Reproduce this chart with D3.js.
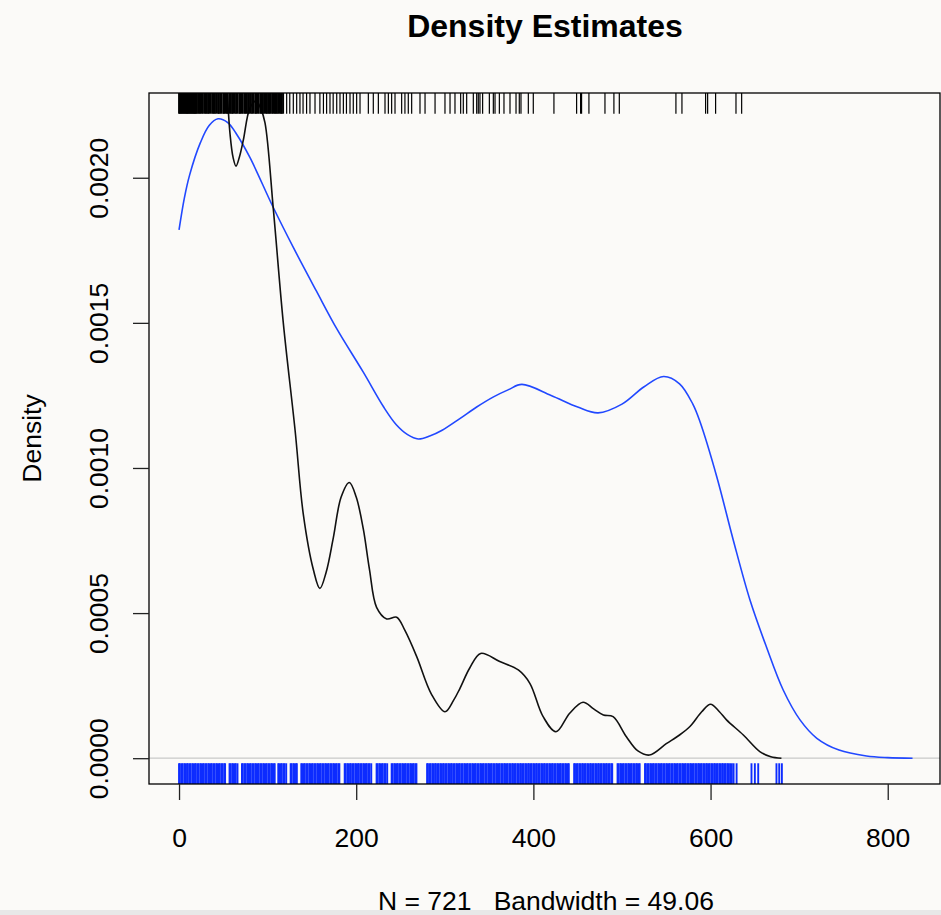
<!DOCTYPE html>
<html>
<head>
<meta charset="utf-8">
<script src="https://cdn.jsdelivr.net/npm/d3@7"></script>
<style>
  body { margin: 0; background: #fbfaf8; }
  svg { display: block; }
  text { font-family: "Liberation Sans", Arial, Helvetica, sans-serif; fill: #000; }
</style>
</head>
<body>
<svg id="chart"></svg>
<script>
// plot limits (R adds 4% around the data range)
var xLim = [-33.9, 859];
var yLim = [-0.0000889, 0.002292];

var xTicks = [0, 200, 400, 600, 800];
var yTicks = [0, 0.0005, 0.0010, 0.0015, 0.0020];

// wide bandwidth density (blue)
var blueX = [0, 6, 12, 24, 34, 44, 55, 65, 80, 106, 129, 155, 178, 208, 231, 245, 258, 270, 283, 297, 317,
  336, 355, 372, 387, 420, 450, 473, 500, 525, 547, 565, 580, 588, 607, 625.6, 644.5, 663, 682, 701, 720, 745,
  776, 800, 828];
var blueY = [0.00182, 0.00193, 0.00201, 0.00212, 0.00218, 0.002203, 0.00219, 0.00215, 0.00207, 0.00190, 0.00176,
  0.00161, 0.00148, 0.00133, 0.00121, 0.00115, 0.001115, 0.00110, 0.00111, 0.00113, 0.00117,
  0.00121, 0.001245, 0.00127, 0.001288, 0.00125, 0.00121, 0.00119, 0.00122, 0.00128, 0.001315, 0.00129, 0.00122,
  0.00116, 0.00097, 0.000752, 0.000545, 0.000384, 0.000235, 0.000132, 0.0000686, 0.000028,
  0.0000076, 0.000002, 0];

// narrow bandwidth density (black)
var blackX = [0, 10, 20, 30, 40, 48, 54.5, 57.6, 61, 64.3, 68, 72.6, 80, 87, 92, 97, 106.5, 117.7, 131, 140.3,
  151.6, 159, 166, 174.2, 183, 192.2, 200, 208, 215, 223, 234.4, 245.7, 255, 268.3, 285, 300.2, 310, 317,
  328, 340.5, 362, 383, 396, 411, 425.5, 441, 456, 468, 479, 490, 505, 518, 531, 550, 565, 577, 590, 600,
  610, 618, 637, 656, 668, 680];
var blackY = [0.0036, 0.0040, 0.0041, 0.0038, 0.0032, 0.0027, 0.00229, 0.00215, 0.00207, 0.00204, 0.00207,
  0.00213, 0.00224, 0.002265, 0.00224, 0.00219, 0.00189, 0.00150, 0.00113, 0.00084,
  0.00065, 0.000585, 0.00064, 0.00076, 0.00090, 0.00095, 0.00090, 0.00079, 0.00065, 0.00052, 0.00048,
  0.000486, 0.00044, 0.00035, 0.00022, 0.00016, 0.00020, 0.00024,
  0.00031, 0.000361, 0.000333, 0.000304, 0.000258, 0.000143, 0.000091, 0.000155, 0.000193, 0.00017,
  0.000149, 0.000143, 0.000074, 0.000025, 0.000011, 0.00005, 0.00008, 0.00011, 0.00016, 0.000186,
  0.00016, 0.000132, 0.00008, 0.000022, 0.000005, 0];

// rug of the black sample (top)
var blackRug = [0, 1, 2, 3, 4, 5, 6, 7, 8, 9, 10, 11, 12, 13, 14, 15, 16, 17, 18, 19, 20,
  21.5, 23, 24, 25.5, 27, 29, 30, 31.5, 33, 34, 36, 38, 39, 40.5, 42, 44, 45, 46.5, 48, 50, 51, 52.5, 54,
  55, 57, 58.5, 60, 61, 63, 64.5, 66, 68, 69, 70.5, 72, 74, 75, 76.5, 78, 79, 81, 82.5, 84, 86, 87, 88.5,
  90, 92, 93, 94.5, 96, 98, 99, 100.5, 102, 103, 105, 106.5, 108, 109, 110.5, 112, 113.5, 115, 116, 117.5,
  121.5, 125, 129, 132.8, 136.5, 140, 144, 147.8, 153.5, 159, 163, 166.6, 170.4, 174, 178, 181.7, 185.5,
  189, 193, 196.7, 200.5, 204.3, 213.7, 219.3, 225, 232.5, 236.3, 240, 243.8, 251.3, 255, 258.8, 262.6,
  272, 277.7, 289, 300.2, 305.9, 311.5, 317.9, 320.9, 324.7, 332.2, 336, 337.8, 339.7, 342.7, 350.3,
  354.8, 356.7, 361.6, 366.8, 373.6, 380.4, 384.1, 386, 394.3, 399.9, 423.2, 448.8, 453.3, 454.4, 462.7,
  480.8, 490.9, 497, 560.9, 567.7, 594.4, 596.7, 605.7, 628.7, 635.1];

// rug of the blue sample (bottom)
var blueRug = [0, 1, 3, 4, 6, 7, 9, 10, 12, 13, 15, 16, 18, 19, 21, 22, 24, 25, 27, 28, 30, 31, 33, 34, 36, 37,
  39, 40, 42, 43, 45, 46, 48, 49, 51, 52, 57, 58, 60, 61, 63, 64, 66,
  71, 72, 74, 75, 77, 78, 80, 81, 83, 84, 86, 87, 89, 90, 92, 93, 95, 96, 98, 99, 101, 102, 104, 105, 107, 108,
  112, 113, 115, 116, 118, 119, 121, 126, 127, 129, 130, 132, 133,
  138, 139, 141, 142, 144, 145, 147, 148, 150, 151, 153, 154, 156, 157, 159, 160, 162, 163, 165, 166, 168,
  169, 171, 172, 174, 175, 177, 178, 180, 181,
  187, 188, 190, 191, 193, 194, 196, 197, 199, 200, 202, 203, 205, 206, 208, 209, 211, 212, 214, 215, 217,
  223, 224, 226, 227, 229, 230, 232, 233, 235,
  240, 241, 243, 244, 246, 247, 249, 250, 252, 253, 255, 256, 258, 259, 261, 262, 264, 265, 267, 268,
  280, 281, 283, 284, 286, 287, 289, 290, 292, 293, 295, 296, 298, 299, 301, 302, 304, 305, 307, 308, 310,
  311, 313, 314, 316, 317, 319, 320, 322, 323, 325, 326, 328, 329, 331, 332, 334, 335, 337, 338, 340, 341,
  343, 344, 346, 347, 349, 350, 352, 353, 355, 356, 358, 359, 361, 362, 364, 365, 367, 368, 370, 371, 373,
  374, 376, 377, 379, 380, 382, 383, 385, 386, 388, 389, 391, 392, 394, 395, 397, 398, 400, 401, 403, 404,
  406, 407, 409, 410, 412, 413, 415, 416, 418, 419, 421, 422, 424, 425, 427, 428, 430, 431, 433, 434, 436,
  437, 439, 440,
  446, 447, 449, 450, 452, 453, 455, 456, 458, 459, 461, 462, 464, 465, 467, 468, 470, 471, 473, 474, 476,
  477, 479, 480, 482, 483, 485, 486, 488, 489,
  495, 496, 498, 499, 501, 502, 504, 505, 507, 508, 510, 511, 513, 514, 516, 517, 519, 520,
  526, 527, 529, 530, 532, 533, 535, 536, 538, 539, 541, 542, 544, 545, 547, 548, 550, 551, 553, 554, 556,
  557, 559, 560, 562, 563, 565, 566, 568, 569, 571, 572, 574, 575, 577, 578, 580, 581, 583, 584, 586, 587,
  589, 590, 592, 593, 595, 596, 598, 599, 601, 602, 604, 605, 607, 608, 610, 611, 613, 614, 616, 617, 619,
  620, 622, 624, 626, 629.4, 646.2, 650, 653.8, 674.4, 677.5, 680.5];

var width = 941, height = 915;
var box = {left: 149, right: 940, top: 93, bottom: 784};

var svg = d3.select("#chart")
    .attr("width", width)
    .attr("height", height);

svg.append("rect")
    .attr("width", width)
    .attr("height", height)
    .attr("fill", "#fbfaf8");

var x = d3.scaleLinear().domain(xLim).range([box.left, box.right]);
var y = d3.scaleLinear().domain(yLim).range([box.bottom, box.top]);

svg.append("clipPath")
    .attr("id", "plotClip")
    .append("rect")
    .attr("x", box.left)
    .attr("y", box.top)
    .attr("width", box.right - box.left)
    .attr("height", box.bottom - box.top);

// zero line
svg.append("line")
    .attr("x1", box.left).attr("x2", box.right)
    .attr("y1", y(0)).attr("y2", y(0))
    .attr("stroke", "#c9c9c9")
    .attr("stroke-width", 1.2);

var line = d3.line()
    .x(function (d) { return x(d[0]); })
    .y(function (d) { return y(d[1]); })
    .curve(d3.curveCatmullRom.alpha(0.5));

var plot = svg.append("g").attr("clip-path", "url(#plotClip)");

plot.append("path")
    .datum(blueX.map(function (v, i) { return [v, blueY[i]]; }))
    .attr("d", line)
    .attr("fill", "none")
    .attr("stroke", "#2148ff")
    .attr("stroke-width", 1.6);

plot.append("path")
    .datum(blackX.map(function (v, i) { return [v, blackY[i]]; }))
    .attr("d", line)
    .attr("fill", "none")
    .attr("stroke", "#111")
    .attr("stroke-width", 1.6);

// rugs, 3% of plot height
var rugLen = 0.03 * (box.bottom - box.top);

svg.append("g")
    .selectAll("line")
    .data(blackRug)
    .enter().append("line")
    .attr("x1", function (d) { return x(d); })
    .attr("x2", function (d) { return x(d); })
    .attr("y1", box.top)
    .attr("y2", box.top + rugLen)
    .attr("stroke", "#000")
    .attr("stroke-width", function (d) { return d < 118 ? 1.9 : 1.2; });

svg.append("g")
    .selectAll("line")
    .data(blueRug)
    .enter().append("line")
    .attr("x1", function (d) { return x(d); })
    .attr("x2", function (d) { return x(d); })
    .attr("y1", box.bottom)
    .attr("y2", box.bottom - rugLen)
    .attr("stroke", "#0d2cff")
    .attr("stroke-width", 1.9);

// box
svg.append("rect")
    .attr("x", box.left)
    .attr("y", box.top)
    .attr("width", box.right - box.left)
    .attr("height", box.bottom - box.top)
    .attr("fill", "none")
    .attr("stroke", "#000")
    .attr("stroke-width", 1.3);

// axes
var xAxis = svg.append("g")
    .attr("transform", "translate(0," + box.bottom + ")")
    .call(d3.axisBottom(x).tickValues(xTicks).tickSize(16).tickFormat(d3.format("d")));
xAxis.select(".domain").remove();
xAxis.selectAll("line").attr("stroke", "#222").attr("stroke-width", 1.3);
xAxis.selectAll("text")
    .attr("y", 62.7)
    .attr("dy", 0)
    .style("font-size", "26.5px")
    .style("font-family", "'Liberation Sans', Arial, sans-serif")
    .attr("fill", "#000");

var yAxis = svg.append("g")
    .attr("transform", "translate(" + box.left + ",0)")
    .call(d3.axisLeft(y).tickValues(yTicks).tickSize(16).tickFormat(d3.format(".4f")));
yAxis.select(".domain").remove();
yAxis.selectAll("line").attr("stroke", "#222").attr("stroke-width", 1.3);
yAxis.selectAll("text")
    .attr("transform", "rotate(-90)")
    .attr("x", 0)
    .attr("y", -40.7)
    .attr("dy", 0)
    .attr("text-anchor", "middle")
    .style("font-size", "26.5px")
    .style("font-family", "'Liberation Sans', Arial, sans-serif")
    .attr("fill", "#000");

// titles
svg.append("text")
    .attr("x", 545)
    .attr("y", 37)
    .attr("text-anchor", "middle")
    .style("font-size", "32px")
    .style("font-weight", "bold")
    .text("Density Estimates");

svg.append("text")
    .attr("transform", "translate(40.7," + ((box.top + box.bottom) / 2) + ") rotate(-90)")
    .attr("text-anchor", "middle")
    .style("font-size", "26.5px")
    .text("Density");

svg.append("text")
    .attr("x", 546)
    .attr("y", 910)
    .attr("text-anchor", "middle")
    .style("font-size", "26.5px")
    .style("white-space", "pre")
    .text("N = 721   Bandwidth = 49.06");

// strip at the bottom of the screenshot
svg.append("rect")
    .attr("x", 0)
    .attr("y", 910)
    .attr("width", width)
    .attr("height", 5)
    .attr("fill", "#e8e8e8");
</script>
</body>
</html>
